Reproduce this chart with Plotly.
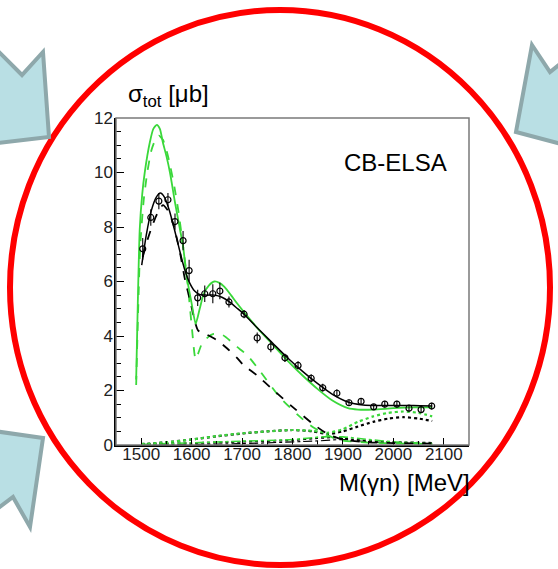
import plotly.graph_objects as go

# ---------------- data ----------------
# measured total cross section (CB-ELSA), M(gamma n) in MeV, sigma in microbarn
data_w = [1503, 1519, 1535, 1553, 1567, 1583, 1595, 1612, 1626, 1642, 1656, 1674,
          1704, 1730, 1757, 1785, 1811, 1837, 1860, 1888, 1912, 1936, 1961, 1983,
          2007, 2031, 2055, 2076]
data_sigma = [7.2, 8.35, 8.95, 9.0, 8.2, 7.5, 6.4, 5.4, 5.55, 5.55, 5.65, 5.25,
              4.8, 3.93, 3.6, 3.2, 2.92, 2.45, 2.1, 1.9, 1.55, 1.6, 1.4, 1.5,
              1.5, 1.35, 1.3, 1.43]
data_err = [0.4, 0.3, 0.3, 0.25, 0.3, 0.35, 0.4, 0.3, 0.3, 0.35, 0.3, 0.2,
            0.15, 0.2, 0.2, 0.15, 0.15, 0.15, 0.15, 0.15, 0.12, 0.12, 0.1, 0.12,
            0.12, 0.12, 0.12, 0.12]

# fit total (black solid)
fit_w = [1501, 1510, 1520, 1530, 1538, 1546, 1556, 1566, 1576, 1586, 1596, 1606,
         1616, 1630, 1645, 1660, 1675, 1690, 1705, 1730, 1760, 1790, 1820, 1850,
         1880, 1910, 1940, 1970, 2000, 2040, 2077]
fit_sigma = [6.6, 7.7, 8.6, 9.1, 9.25, 9.1, 8.6, 7.9, 7.15, 6.45, 5.95, 5.65,
             5.52, 5.5, 5.5, 5.42, 5.25, 5.02, 4.78, 4.3, 3.75, 3.2, 2.7, 2.25,
             1.85, 1.58, 1.47, 1.45, 1.45, 1.45, 1.43]

# fit total, second solution (green solid)
fit2_w = [1490, 1493, 1497, 1502, 1507, 1517, 1524, 1531, 1537, 1543, 1550, 1557,
          1567, 1577, 1583, 1590, 1600, 1608, 1616, 1624, 1634, 1645, 1655, 1665,
          1678, 1690, 1705, 1730, 1760, 1790, 1820, 1850, 1880, 1910, 1930, 1960,
          2000, 2040, 2077]
fit2_sigma = [2.4, 5.0, 7.9, 9.2, 10.0, 11.1, 11.6, 11.75, 11.6, 11.1, 10.6, 10.0,
              8.9, 7.9, 7.3, 6.2, 5.2, 4.45, 5.0, 5.55, 5.85, 6.0, 5.95, 5.8,
              5.5, 5.2, 4.85, 4.3, 3.7, 3.1, 2.55, 2.05, 1.62, 1.35, 1.3, 1.3,
              1.35, 1.38, 1.38]

# dominant partial wave (black dashed)
pw_w = [1503, 1512, 1521, 1532, 1543, 1553, 1563, 1577, 1587, 1597, 1607, 1613,
        1630, 1650, 1670, 1690, 1702, 1730, 1760, 1800, 1840, 1870, 1900, 1950,
        2000, 2077]
pw_sigma = [6.9, 7.5, 8.0, 8.5, 8.8, 8.6, 8.15, 7.05, 6.05, 5.3, 4.5, 4.2,
            4.05, 3.85, 3.55, 3.2, 2.95, 2.55, 2.05, 1.4, 0.78, 0.4, 0.2, 0.1,
            0.07, 0.05]

# dominant partial wave, second solution (green dashed)
pw2_w = [1490, 1494, 1498, 1505, 1512, 1520, 1528, 1535, 1543, 1551, 1558, 1566,
         1574, 1583, 1593, 1601, 1608, 1620, 1632, 1642, 1662, 1690, 1710, 1736,
         1775, 1815, 1840, 1868, 1894, 1950, 2000, 2077]
pw2_sigma = [2.2, 5.0, 7.3, 9.0, 10.0, 10.8, 11.2, 11.35, 11.2, 10.75, 10.2, 9.45,
             8.55, 7.3, 5.75, 4.2, 3.15, 3.7, 3.95, 4.07, 4.03, 3.6, 3.3, 2.7,
             1.75, 1.03, 0.66, 0.37, 0.18, 0.09, 0.06, 0.04]

# second partial wave (dotted)
pwb_w = [1500, 1550, 1600, 1650, 1700, 1750, 1800, 1840, 1870, 1900, 1930, 1960,
         1990, 2020, 2050, 2077]
pwb_sigma = [0.03, 0.1, 0.2, 0.32, 0.42, 0.5, 0.55, 0.5, 0.4, 0.5, 0.68, 0.85,
             0.97, 1.02, 0.97, 0.88]
pwb2_sigma = [0.03, 0.1, 0.2, 0.33, 0.43, 0.5, 0.55, 0.52, 0.45, 0.58, 0.85, 1.05,
              1.18, 1.23, 1.18, 1.05]

# small contributions near zero
pwc_w = [1500, 1600, 1700, 1800, 1850, 1880, 1920, 1980, 2077]
pwc_sigma = [0.02, 0.07, 0.12, 0.18, 0.25, 0.28, 0.2, 0.12, 0.08]
pwc2_w = [1500, 1600, 1700, 1800, 1860, 1900, 1950, 2000, 2077]
pwc2_sigma = [0.02, 0.08, 0.14, 0.2, 0.3, 0.3, 0.2, 0.12, 0.05]
pwd_w = [1500, 1700, 1850, 1900, 1950, 2077]
pwd_sigma = [0.0, 0.05, 0.15, 0.2, 0.12, 0.04]

x_ticks = [1500, 1600, 1700, 1800, 1900, 2000, 2100]
y_ticks = [0, 2, 4, 6, 8, 10, 12]

# ---------------- figure ----------------
W, H = 558, 569
L, R, T, B = 116, 89, 118, 124
PW, PH = W - L - R, H - T - B

GREEN = "#3ad83a"
FONT = "Liberation Sans, Arial, sans-serif"


def px(x):
    return (x - L) / PW


def py(y):
    return (H - B - y) / PH


fig = go.Figure()


def curve(xs, ys, color, dash, width=1.6):
    fig.add_trace(go.Scatter(x=xs, y=ys, mode="lines",
                             line=dict(color=color, width=width, dash=dash,
                                       shape="spline", smoothing=0.6),
                             hoverinfo="skip", showlegend=False))


curve(pwd_w, pwd_sigma, "black", "dashdot", 1.2)
curve(pwc_w, pwc_sigma, "black", "dot", 1.8)
curve(pwc2_w, pwc2_sigma, GREEN, "dashdot", 1.6)
curve(pwb_w, pwb_sigma, "black", "dot", 2.2)
curve(pwb_w, pwb2_sigma, GREEN, "dot", 2.2)
curve(pw2_w, pw2_sigma, GREEN, "dash", 1.8)
curve(pw_w, pw_sigma, "black", "dash", 1.8)
curve(fit2_w, fit2_sigma, GREEN, "solid", 1.8)
curve(fit_w, fit_sigma, "black", "solid", 1.5)

fig.add_trace(go.Scatter(
    x=data_w, y=data_sigma, mode="markers",
    marker=dict(symbol="circle-open", size=6, color="black",
                line=dict(width=1.2, color="black")),
    error_y=dict(type="data", array=data_err, visible=True,
                 thickness=1.1, width=0, color="black"),
    hoverinfo="skip", showlegend=False))

shapes = []
# frame (top / right)
shapes.append(dict(type="rect", xref="paper", yref="paper", x0=0, x1=1, y0=0, y1=1,
                   line=dict(color="#7a7a7a", width=1.5), layer="above"))
# red ring
shapes.append(dict(type="circle", xref="paper", yref="paper",
                   x0=px(10), x1=px(550), y0=py(565), y1=py(10),
                   line=dict(color="#ff0000", width=6), layer="above"))


def poly(points):
    d = "M " + " L ".join(f"{px(a):.4f},{py(b):.4f}" for a, b in points) + " Z"
    return dict(type="path", xref="paper", yref="paper", path=d,
                fillcolor="#b9dfe4", line=dict(color="#8ea8ab", width=4),
                layer="above")


shapes.append(poly([(-20, 33), (22, 75), (43, 52), (49, 137), (-20, 145)]))
shapes.append(poly([(532, 45), (550, 72), (580, 48), (580, 149), (516, 132)]))
shapes.append(poly([(-20, 429), (43, 438), (30, 527), (13, 497), (-20, 522)]))

annotations = [
    dict(xref="paper", yref="paper", x=px(126), y=py(113), xanchor="left",
         yanchor="bottom", showarrow=False,
         text="σ<sub>tot</sub> [μb]", font=dict(family=FONT, size=24, color="black")),
    dict(xref="paper", yref="paper", x=px(472), y=py(482), xanchor="right",
         yanchor="middle", showarrow=False,
         text="M(γn) [MeV]", font=dict(family=FONT, size=24, color="black")),
    dict(xref="paper", yref="paper", x=px(395), y=py(162), xanchor="center",
         yanchor="middle", showarrow=False,
         text="CB-ELSA", font=dict(family=FONT, size=24, color="black")),
]

fig.update_layout(
    width=W, height=H,
    margin=dict(l=L, r=R, t=T, b=B, pad=0),
    paper_bgcolor="white", plot_bgcolor="white",
    shapes=shapes, annotations=annotations,
    xaxis=dict(range=[1450, 2150], tickvals=x_ticks, ticks="inside", ticklen=7,
               tickwidth=1.2, tickcolor="black", showgrid=False, zeroline=False,
               showline=True, linecolor="black", linewidth=1.5,
               ticklabelstandoff=-7,
               tickfont=dict(family=FONT, size=17, color="#222"),
               minor=dict(dtick=50, tick0=1450, ticks="inside", ticklen=4,
                          tickcolor="black", tickwidth=1)),
    yaxis=dict(range=[0, 12], tickvals=y_ticks, ticks="inside", ticklen=8,
               tickwidth=1.2, tickcolor="black", showgrid=False, zeroline=False,
               showline=True, linecolor="black", linewidth=1.5,
               ticklabelstandoff=-2,
               tickfont=dict(family=FONT, size=17, color="#222"),
               minor=dict(dtick=0.5, ticks="inside", ticklen=5,
                          tickcolor="black", tickwidth=1)),
)

fig.write_html("out.html")
